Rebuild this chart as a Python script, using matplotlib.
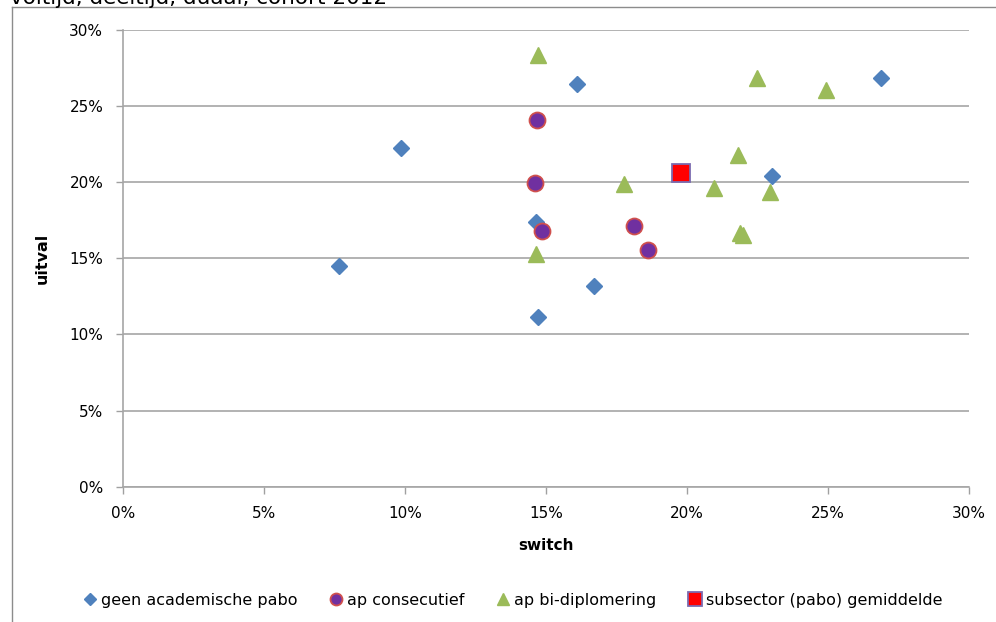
import matplotlib.pyplot as plt
from matplotlib.lines import Line2D
from matplotlib.ticker import FuncFormatter

# waarden in procenten (switch, uitval)
geen_x = [7.65, 9.85, 16.09, 14.64, 16.70, 14.73, 23.02, 26.86]
geen_y = [14.50, 22.23, 26.46, 17.37, 13.21, 11.13, 20.41, 26.87]

cons_x = [14.69, 14.61, 14.85, 18.12, 18.60]
cons_y = [24.09, 19.93, 16.82, 17.15, 15.55]

bidi_x = [14.73, 14.66, 17.75, 20.96, 21.80, 21.88, 21.99, 22.47, 22.93, 24.91]
bidi_y = [28.36, 15.29, 19.86, 19.61, 21.79, 16.65, 16.54, 26.83, 19.38, 26.06]

gem_x = [19.79]
gem_y = [20.59]

ticks = [0, 5, 10, 15, 20, 25, 30]

fig = plt.figure(figsize=(9.96, 6.22), dpi=100)
ax = fig.add_axes([0.1232, 0.2175, 0.8500, 0.7343])

ax.plot(geen_x, geen_y, 'D', ms=8.6, color='#4F81BD', mec='#4F81BD',
        label='geen academische pabo', zorder=3)
ax.plot(cons_x, cons_y, 'o', ms=11.5, color='#7030A0', mec='#D0504D', mew=1.3,
        label='ap consecutief', zorder=4)
ax.plot(bidi_x, bidi_y, '^', ms=12.2, color='#9BBB59', mec='#9BBB59',
        label='ap bi-diplomering', zorder=5)
ax.plot(gem_x, gem_y, 's', ms=12.5, color='#FF0000', mec='#7B6BB0', mew=1.3,
        label='subsector (pabo) gemiddelde', zorder=6)

ax.set_xlim(0, 30)
ax.set_ylim(0, 30)
ax.set_xticks(ticks)
ax.set_yticks(ticks)
pct = FuncFormatter(lambda v, p: f'{v:.0f}%')
ax.xaxis.set_major_formatter(pct)
ax.yaxis.set_major_formatter(pct)
ax.tick_params(axis='both', labelsize=11, length=5, width=1, color='#A0A0A0', pad=9)
ax.grid(axis='y', color='#A6A6A6', lw=1.2)
ax.set_axisbelow(True)
for s in ['top', 'right']:
    ax.spines[s].set_visible(False)
for s in ['left', 'bottom']:
    ax.spines[s].set_color('#A6A6A6')
    ax.spines[s].set_linewidth(1.2)

ax.set_xlabel('switch', fontsize=11, fontweight='bold', labelpad=12)
ax.set_ylabel('uitval', fontsize=11.5, fontweight='bold', labelpad=14)

fig.legend(loc='center', bbox_to_anchor=(0.515, 0.035), ncol=4, frameon=False,
           fontsize=11.5, markerscale=0.75, handlelength=0.8, handletextpad=0.3,
           columnspacing=2.0)

# kader en afgesneden titel
fig.add_artist(Line2D([12 / 996, 12 / 996], [0, 1 - 7 / 622],
                      transform=fig.transFigure, color='#8C8C8C', lw=1))
fig.add_artist(Line2D([12 / 996, 1], [1 - 7 / 622, 1 - 7 / 622],
                      transform=fig.transFigure, color='#8C8C8C', lw=1))
fig.text(10 / 996, 1 - 4 / 622, 'voltijd, deeltijd, duaal, cohort 2012',
         fontsize=15.5, va='baseline', ha='left')

fig.savefig('out.png', dpi=100)
